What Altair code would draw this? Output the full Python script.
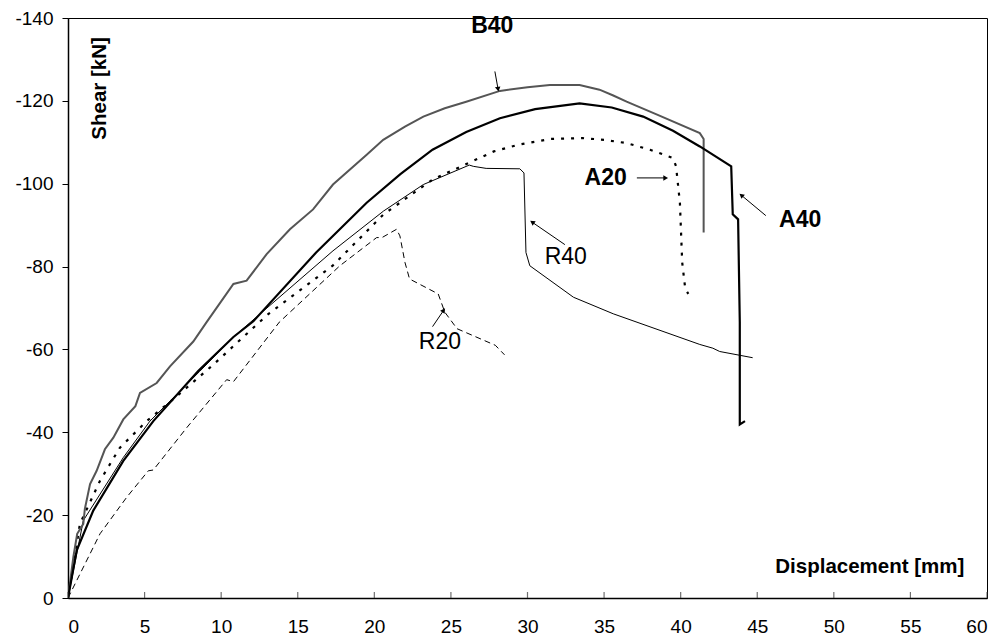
import math
import altair as alt
import pandas as pd

# ---- data ----
b40_x = [0, 0.35, 0.6, 1.0, 1.1, 1.44, 1.87, 2.41, 2.96, 3.61, 4.4, 4.7, 5.79, 6.66, 8.18, 9.05,
         10.8, 11.66, 12.97, 14.49, 16.0, 17.3, 19.5, 20.58, 22.0, 23.2, 24.6, 26.0, 28.2, 30.0,
         31.46, 33.4, 34.7, 35.6, 36.47, 38.5, 41.25, 41.5, 41.5]
b40_y = [0, -9.9, -15.5, -17.9, -21.5, -27.5, -30.7, -35.9, -38.7, -43.1, -46.3, -49.5, -51.9, -55.9,
         -61.9, -66.6, -75.8, -76.6, -83.0, -89.0, -93.8, -99.8, -107.0, -110.6, -113.8, -116.2,
         -118.2, -119.8, -122.4, -123.3, -123.8, -123.8, -122.7, -121.3, -119.8, -116.6, -112.2,
         -110.8, -88.2]

a40_x = [0, 0.57, 1.65, 3.61, 5.57, 8.5, 10.8, 12.1, 16.2, 19.5, 21.7, 23.8, 26.0, 28.2, 30.5,
         33.4, 35.5, 37.55, 39.5, 41.25, 43.3, 43.4, 43.75, 43.86, 43.86, 44.2]
a40_y = [0, -11.5, -21.1, -33.1, -42.7, -54.8, -63.0, -66.8, -83.4, -95.4, -102.3, -108.2, -112.5,
         -115.8, -118.0, -119.4, -118.4, -116.2, -112.8, -109.0, -104.2, -92.6, -91.4, -66.6, -41.9,
         -42.7]

a20_x = [0, 0.78, 2.09, 3.39, 5.14, 7.1, 9.48, 12.5, 13.0, 17.3, 20.6, 23.8, 27.8, 29.5, 31.5,
         33.6, 35.0, 36.47, 38.0, 39.5, 39.7, 39.95, 40.1, 40.3, 40.5]
a20_y = [0, -17.9, -28.3, -36.3, -42.7, -48.7, -56.3, -66.6, -68.3, -80.3, -92.6, -101.0, -107.8,
         -109.5, -110.8, -111.0, -110.6, -109.8, -108.2, -106.2, -104.2, -95.4, -81.0, -74.6, -73.4]

r40_x = [0, 1.0, 3.61, 5.35, 8.6, 10.8, 17.3, 20.6, 23.2, 26.2, 26.46, 27.3, 29.5, 29.77, 29.9,
         30.15, 33.0, 35.6, 41.25, 42.1, 42.55, 44.7]
r40_y = [0, -18.7, -33.9, -42.7, -54.7, -63.0, -83.8, -93.4, -99.8, -104.5, -104.2, -103.7, -103.6,
         -102.6, -83.4, -80.2, -72.6, -68.6, -61.2, -60.3, -59.5, -58.0]

r20_x = [0, 2.09, 3.83, 5.24, 5.57, 7.75, 10.36, 10.8, 13.8, 17.75, 20.15, 20.5, 21.45, 21.67,
         22.0, 22.3, 24.17, 24.6, 25.4, 27.9, 28.5]
r20_y = [0, -15.5, -24.3, -30.7, -30.9, -41.1, -52.7, -52.2, -66.6, -80.2, -87.0, -87.0, -89.0,
         -87.4, -81.0, -77.0, -73.4, -69.0, -65.0, -61.0, -58.7]

labels = ["B40", "A20", "A40", "R40", "R20"]
label_x = [27.7, 35.1, 47.8, 32.5, 24.28]
label_y = [-138.1, -101.4, -91.3, -82.2, -61.9]
label_bold = [True, True, True, False, False]
arrow_x1 = [27.87, 37.14, 45.56, 32.44, 23.8]
arrow_y1 = [-127.1, -101.4, -92.3, -85.3, -65.5]
arrow_x2 = [28.07, 38.97, 44.0, 30.35, 24.5]
arrow_y2 = [-123.0, -101.4, -97.1, -90.6, -69.3]

x_ticks = list(range(0, 61, 5))
y_ticks = list(range(-140, 1, 20))

FONT = "Liberation Sans"
W, H = 919, 580

xs = alt.Scale(domain=[0, 60], nice=False, zero=False)
ys = alt.Scale(domain=[-140, 0], reverse=True, nice=False)

x_axis = alt.Axis(values=x_ticks, title=None, grid=False, ticks=False,
                  labelFont=FONT, labelFontSize=19, labelColor="#000",
                  domainColor="#000", domainWidth=1.5, labelPadding=19,
                  labelExpr="'' + datum.value")
y_axis = alt.Axis(values=y_ticks, title=None, grid=False,
                  labelFont=FONT, labelFontSize=19, labelColor="#000",
                  tickColor="#000", tickSize=6, domainColor="#000", domainWidth=1.5,
                  labelPadding=9, labelExpr="'' + datum.value")


def series(xv, yv):
    return pd.DataFrame({"x": xv, "y": yv, "i": range(len(xv))})


def line(df, color, width, dash=None):
    kw = dict(color=color, strokeWidth=width, clip=True)
    if dash:
        kw["strokeDash"] = dash
    return alt.Chart(df).mark_line(**kw).encode(
        x=alt.X("x:Q", scale=xs, axis=x_axis),
        y=alt.Y("y:Q", scale=ys, axis=y_axis),
        order="i:Q",
    )


layers = [
    line(series(r20_x, r20_y), "#000", 1, [6, 4]),
    line(series(r40_x, r40_y), "#000", 1),
    line(series(a20_x, a20_y), "#000", 2.2, [3, 7]),
    line(series(b40_x, b40_y), "#555", 2),
    line(series(a40_x, a40_y), "#000", 2.2),
]

# inward-pointing x ticks
xt = pd.DataFrame({"x": x_ticks, "y": [0] * len(x_ticks)})
xtick_marks = alt.Chart(xt).mark_tick(orient="vertical", size=6, thickness=1.2, color="#333",
                                      yOffset=-3).encode(
    x=alt.X("x:Q", scale=xs), y=alt.Y("y:Q", scale=ys))

ann = pd.DataFrame({"label": labels, "x": label_x, "y": label_y, "bold": label_bold,
                    "x1": arrow_x1, "y1": arrow_y1, "x2": arrow_x2, "y2": arrow_y2})
pxx, pxy = W / 60.0, H / 140.0
ann["angle"] = [
    (math.degrees(math.atan2((b - a) * pxx, -(d - c) * pxy)) + 360) % 360
    for a, b, c, d in zip(ann.x1, ann.x2, ann.y1, ann.y2)
]

bold_text = alt.Chart(ann[ann.bold]).mark_text(font=FONT, fontSize=23, fontWeight="bold",
                                                 color="#000", align="center", baseline="middle").encode(
    x=alt.X("x:Q", scale=xs), y=alt.Y("y:Q", scale=ys), text="label:N")
norm_text = alt.Chart(ann[~ann.bold]).mark_text(font=FONT, fontSize=23, color="#000",
                                                  align="center", baseline="middle").encode(
    x=alt.X("x:Q", scale=xs), y=alt.Y("y:Q", scale=ys), text="label:N")
shafts = alt.Chart(ann).mark_rule(color="#000", strokeWidth=1).encode(
    x=alt.X("x1:Q", scale=xs), y=alt.Y("y1:Q", scale=ys), x2="x2:Q", y2="y2:Q")
heads = alt.Chart(ann).mark_point(shape="triangle", filled=True, size=30, color="#000",
                                  opacity=1).encode(
    x=alt.X("x2:Q", scale=xs), y=alt.Y("y2:Q", scale=ys), angle=alt.Angle("angle:Q", scale=None))

titles = pd.DataFrame({"t": ["Displacement [mm]"], "x": [52.35], "y": [-7.4]})
xtitle = alt.Chart(titles).mark_text(font=FONT, fontSize=20.5, fontWeight="bold", color="#000",
                                     align="center", baseline="middle").encode(
    x=alt.X("x:Q", scale=xs), y=alt.Y("y:Q", scale=ys), text="t:N")
ytitles = pd.DataFrame({"t": ["Shear [kN]"], "x": [2.09], "y": [-123.0]})
ytitle = alt.Chart(ytitles).mark_text(font=FONT, fontSize=20.5, fontWeight="bold", color="#000",
                                      align="center", baseline="middle", angle=270).encode(
    x=alt.X("x:Q", scale=xs), y=alt.Y("y:Q", scale=ys), text="t:N")

chart = alt.layer(*layers, xtick_marks, shafts, heads, bold_text, norm_text, xtitle, ytitle).properties(
    width=W, height=H,
    autosize=alt.AutoSizeParams(type="none"),
    padding={"left": 60, "top": 10, "right": 5, "bottom": 38},
    background="white",
).configure_view(stroke="#000", strokeWidth=1)

chart.save("out.html", embed_options={"renderer": "svg", "actions": False})
